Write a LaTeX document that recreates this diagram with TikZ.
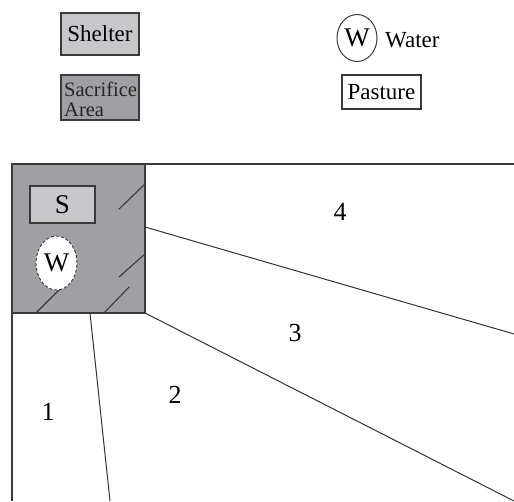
\documentclass[tikz,border=0pt]{standalone}
\usepackage{fontspec}
\setmainfont{Liberation Serif}
\usetikzlibrary{shapes.geometric}
\definecolor{shelterfill}{HTML}{C8C8CA}
\definecolor{sacfill}{HTML}{A0A0A4}
\definecolor{edge}{HTML}{3A3A3A}
\tikzset{
  big/.style={font=\fontsize{23}{23}\selectfont},
  boxed/.style={draw=edge, line width=1.4pt, inner sep=0pt, big},
  wellipse/.style={ellipse, draw=edge, fill=white, inner sep=0pt, font=\fontsize{27}{27}\selectfont},
  fieldline/.style={draw=edge, line width=1.2pt},
  divline/.style={draw=black!80, line width=1pt},
  hatch/.style={draw=edge, line width=1.1pt},
  lbl/.style={font=\fontsize{26}{26}\selectfont},
  sactext/.style={anchor=base west, inner sep=0pt, text=black!85, font=\fontsize{20.5}{20}\selectfont}
}
\begin{document}
\begin{tikzpicture}[x=1pt,y=-1pt]
\useasboundingbox (0,0) rectangle (514,501);
% legend
\node[boxed, fill=shelterfill, minimum width=78pt, minimum height=42pt] (lshelter) at (100,34) {Shelter};
\node[boxed, fill=sacfill, minimum width=78pt, minimum height=45pt] (lsac) at (100,97.5) {};
\node[sactext] (lsac1) at (64,96) {Sacrifice};
\node[sactext] (lsac2) at (64,116) {Area};
\node[wellipse, draw=edge, line width=1pt, minimum width=40pt, minimum height=47pt] (lwater) at (357,38) {W};
\node[anchor=west, inner sep=0pt, big] (lwatertext) at (385,40) {Water};
\node[boxed, line width=1.2pt, fill=white, minimum width=79pt, minimum height=34pt] (lpasture) at (381.5,92) {Pasture};
% field
\coordinate (tl) at (12,164);
\coordinate (tr) at (514,164);
\coordinate (bl) at (12,501);
\node[draw=edge, fill=sacfill, line width=1.4pt, minimum width=133pt, minimum height=149pt, inner sep=0pt] (sq) at (78.5,238.5) {};
\draw[fieldline] (tr) -- (tl) -- (bl);
% hatch lines
\coordinate (h1a) at (119,209); \coordinate (h1b) at (145,184);
\coordinate (h2a) at (119,277); \coordinate (h2b) at (145,254);
\coordinate (h3a) at (104,313); \coordinate (h3b) at (129,287);
\coordinate (h4a) at (36,313);  \coordinate (h4b) at (60,289);
\draw[hatch] (h1a) -- (h1b);
\draw[hatch] (h2a) -- (h2b);
\draw[hatch] (h3a) -- (h3b);
\draw[hatch] (h4a) -- (h4b);
% shelter and water in sacrifice area
\node[boxed, fill=shelterfill, minimum width=65pt, minimum height=37pt, font=\fontsize{27}{27}\selectfont] (shelter) at (62.5,204.5) {S};
\node[wellipse, densely dashed, line width=0.9pt, minimum width=41pt, minimum height=54pt] (water) at (56.5,263) {W};
% dividing lines
\coordinate (d4a) at (145,227); \coordinate (d4b) at (514,334);
\coordinate (d3a) at (145,313); \coordinate (d3b) at (514,501);
\coordinate (d2a) at (90,313);  \coordinate (d2b) at (110,501);
\draw[divline] (d4a) -- (d4b);
\draw[divline] (d3a) -- (d3b);
\draw[divline] (d2a) -- (d2b);
% labels
\node[lbl] (p4) at (340,212) {4};
\node[lbl] (p3) at (295,333) {3};
\node[lbl] (p2) at (175,395) {2};
\node[lbl] (p1) at (48,412) {1};
\end{tikzpicture}
\end{document}
